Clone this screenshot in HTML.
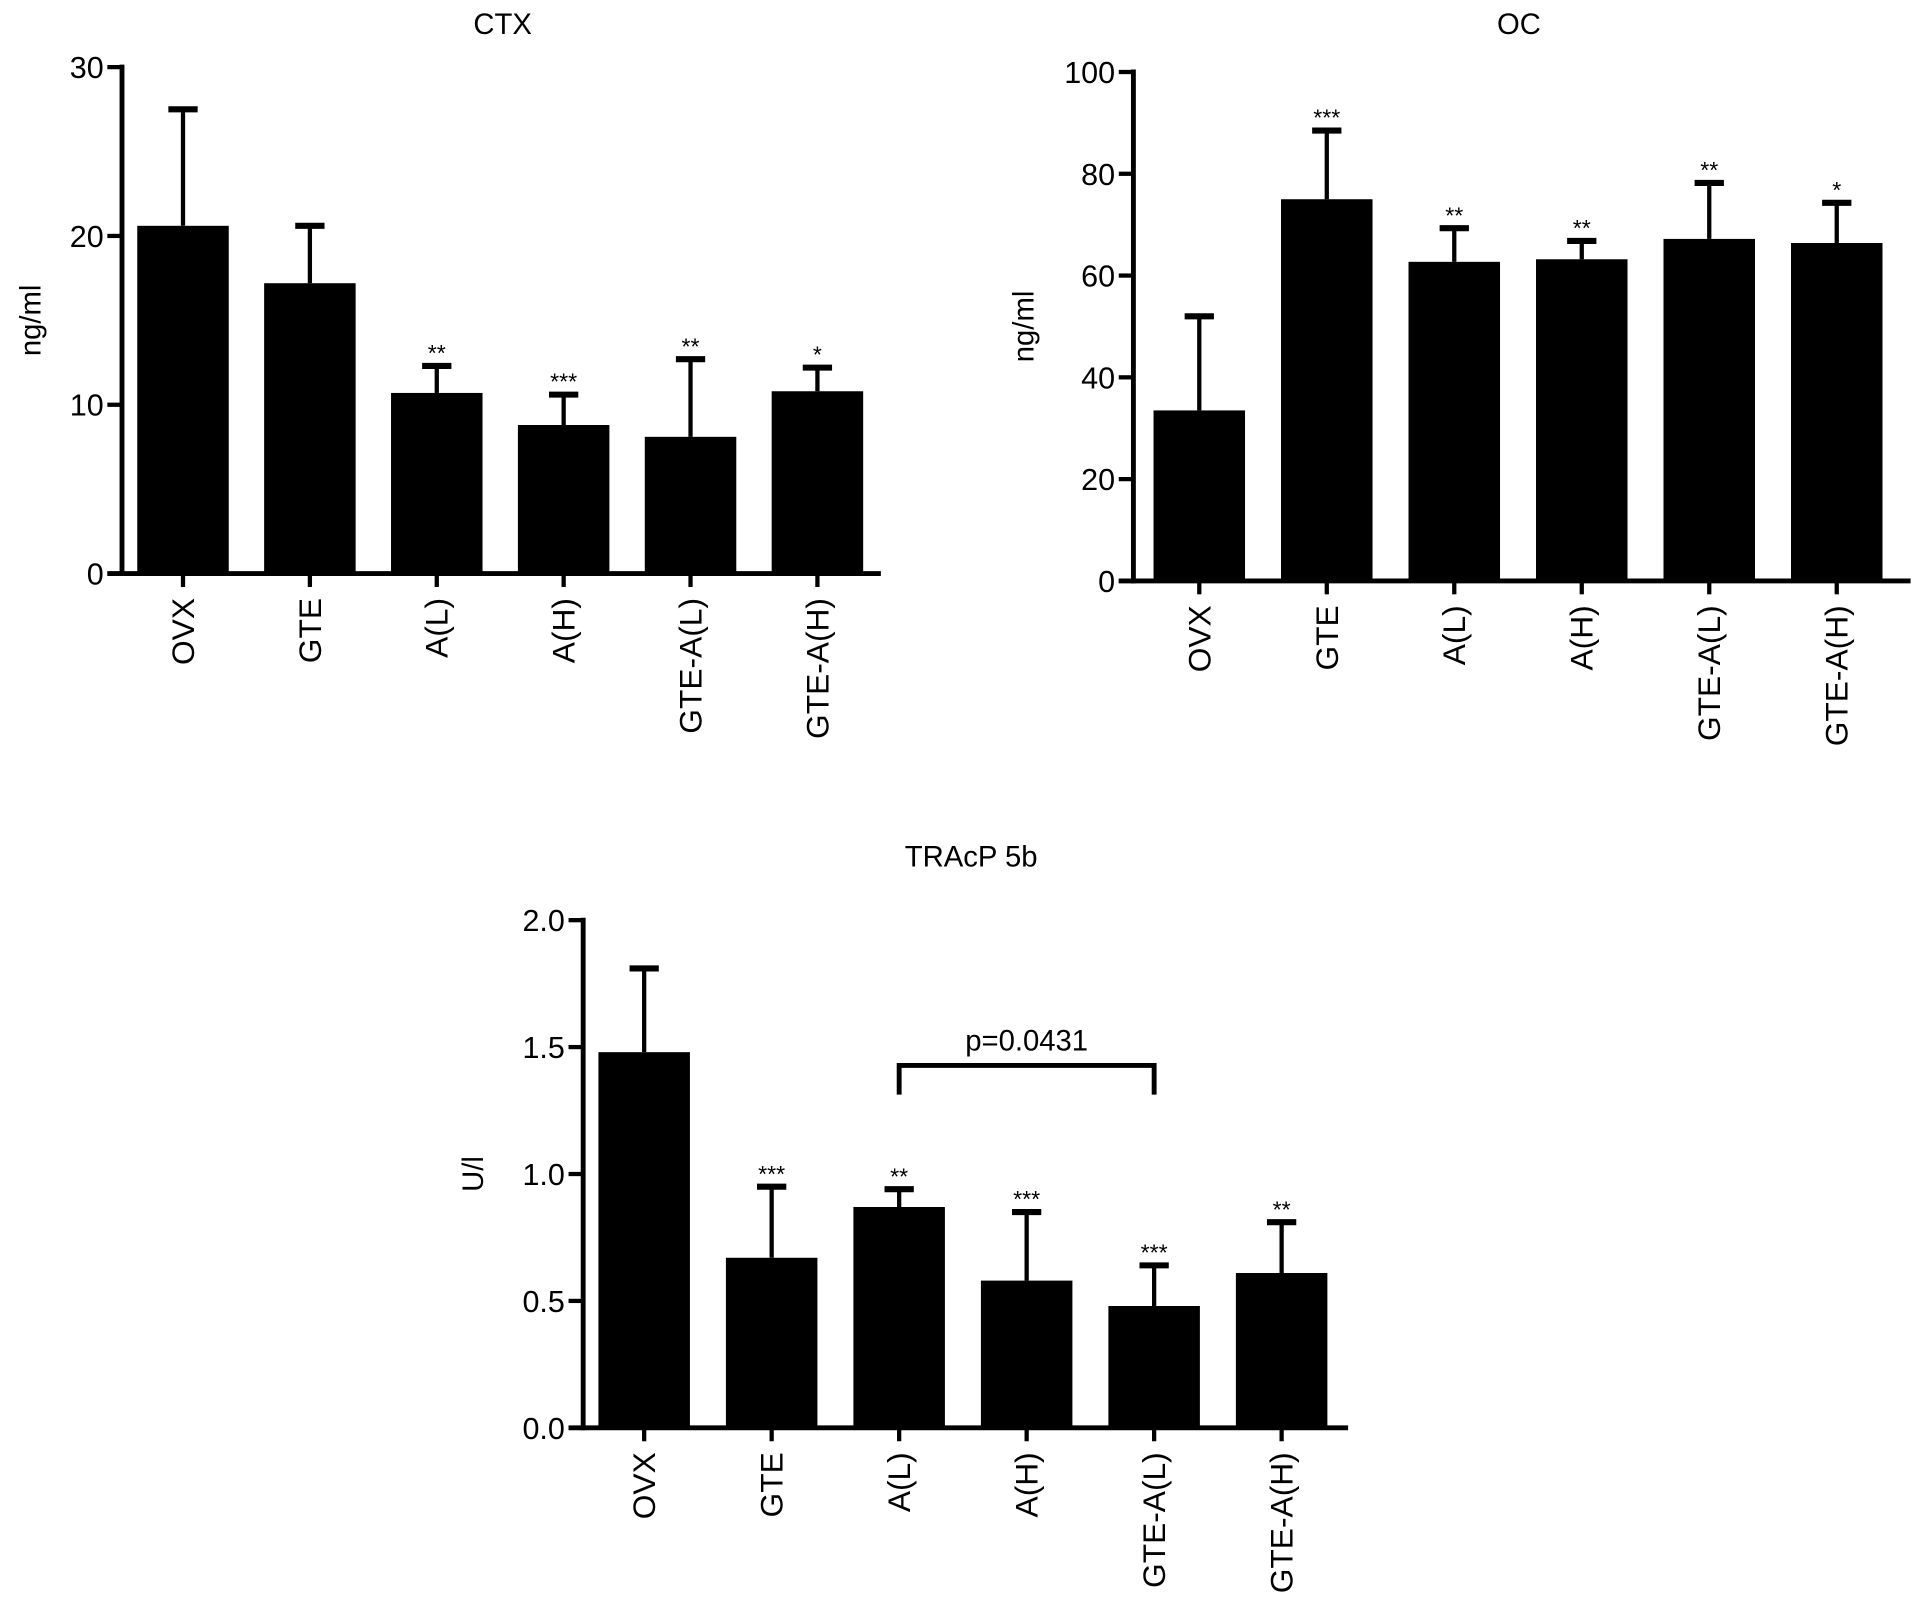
<!DOCTYPE html>
<html><head><meta charset="utf-8"><style>
html,body{margin:0;padding:0;background:#fff;}
svg{display:block;font-family:"Liberation Sans",Arial,sans-serif;}
</style></head><body>
<svg id="fig" width="1913" height="1617" viewBox="0 0 1568 1325" preserveAspectRatio="none" xmlns="http://www.w3.org/2000/svg"></svg>
<script>
const categories = ["OVX","GTE","A(L)","A(H)","GTE-A(L)","GTE-A(H)"];
const ctxMeans = [20.6,17.2,10.7,8.8,8.1,10.8];
const ctxUpper = [27.5,20.6,12.3,10.6,12.7,12.2];
const ctxStars = ["","","**","***","**","*"];
const ctxTicks = [0,10,20,30];
const ocMeans = [33.5,75,62.7,63.2,67.2,66.4];
const ocUpper = [52,88.5,69.3,66.8,78.2,74.3];
const ocStars = ["","***","**","**","**","*"];
const ocTicks = [0,20,40,60,80,100];
const trMeans = [1.48,0.67,0.87,0.58,0.48,0.61];
const trUpper = [1.81,0.95,0.94,0.85,0.64,0.81];
const trStars = ["","***","**","***","***","**"];
const trTicks = ["0.0","0.5","1.0","1.5","2.0"];
const pText = "p=0.0431";
const pFrom = 2, pTo = 4;

const NS="http://www.w3.org/2000/svg";
const svg=document.getElementById('fig');
function mk(tag,attrs,parent){const e=document.createElementNS(NS,tag);for(const k in attrs)e.setAttribute(k,attrs[k]);(parent||svg).appendChild(e);return e;}

function chart(o){
  const g=mk('g',{});
  
  
  const yMax=o.ticks[o.ticks.length-1]*1;
  const y=v=>o.y0-(v/yMax)*(o.y0-o.yTop);
  const x=i=>o.c0+i*o.step;
  const bw=75;
  const t=mk('text',{x:o.tx,y:o.ty,'font-size':24,'text-anchor':'middle'},g);t.textContent=o.title;
  
  
  const yl=mk('text',{x:o.ylx,y:(o.y0+o.yTop)/2,'font-size':24,'text-anchor':'middle',transform:`rotate(-90 ${o.ylx} ${(o.y0+o.yTop)/2})`},g);yl.textContent=o.ylabel;
  
  
  o.means.forEach((m,i)=>{
    const cx=x(i);
    const up=y(o.upper[i]);
    const l=mk('line',{x1:cx,x2:cx,y1:y(m),y2:up,stroke:'#000','stroke-width':3.5},g);
    
    
    const cap=mk('line',{x1:cx-12,x2:cx+12,y1:up,y2:up,stroke:'#000','stroke-width':5},g);
    
    
    const r=mk('rect',{x:cx-bw/2,y:y(m),width:bw,height:o.y0-y(m),fill:'#000'},g);
    
    
    if(o.stars[i]){
      const s=mk('text',{x:cx,y:up-4,'font-size':19,'text-anchor':'middle'},g);s.textContent=o.stars[i];
      
      
    }
    const tk=mk('line',{x1:cx,x2:cx,y1:o.y0,y2:o.y0+11,stroke:'#000','stroke-width':3.5},g);
    
    
    const lx=cx+9, ly=o.y0+20;
    const lb=mk('text',{x:lx,y:ly,'font-size':26,'text-anchor':'end',transform:`rotate(-90 ${lx} ${ly})`},g);lb.textContent=categories[i];
    
    
  });
  const ya=mk('line',{x1:o.ax,x2:o.ax,y1:o.yTop-2,y2:o.y0+2,stroke:'#000','stroke-width':4},g);
  
  
  const xa=mk('line',{x1:o.ax-12,x2:o.axEnd,y1:o.y0,y2:o.y0,stroke:'#000','stroke-width':4},g);
  
  
  o.ticks.forEach(tv=>{
    const ty=y(tv*1);
    const tl=mk('line',{x1:o.ax-12,x2:o.ax,y1:ty,y2:ty,stroke:'#000','stroke-width':3.5},g);
    
    
    const tt=mk('text',{x:o.ax-15,y:ty+9,'font-size':25,'text-anchor':'end'},g);tt.textContent=tv;
    
    
  });
  return {g,x,y};
}

chart({name:'ctx-chart',title:'CTX',tx:412,ty:28,ylabel:'ng/ml',ylx:33,ax:100,axEnd:722,yTop:55,y0:470,c0:150,step:104,means:ctxMeans,upper:ctxUpper,stars:ctxStars,ticks:ctxTicks});
chart({name:'oc-chart',title:'OC',tx:1245,ty:28,ylabel:'ng/ml',ylx:847,ax:929,axEnd:1566,yTop:59,y0:476,c0:983,step:104.5,means:ocMeans,upper:ocUpper,stars:ocStars,ticks:ocTicks});
const tr=chart({name:'tracp-chart',title:'TRAcP 5b',tx:796,ty:710,ylabel:'U/l',ylx:396,ax:478,axEnd:1105,yTop:754,y0:1170,c0:528,step:104.5,means:trMeans,upper:trUpper,stars:trStars,ticks:trTicks});
const by=873, bx1=tr.x(pFrom), bx2=tr.x(pTo);
const br=mk('path',{d:`M${bx1} ${by+24} V${by} H${bx2} V${by+24}`,fill:'none',stroke:'#000','stroke-width':4},tr.g);


const pt=mk('text',{x:(bx1+bx2)/2,y:by-12,'font-size':24,'text-anchor':'middle'},tr.g);pt.textContent=pText;


</script>
</body></html>
